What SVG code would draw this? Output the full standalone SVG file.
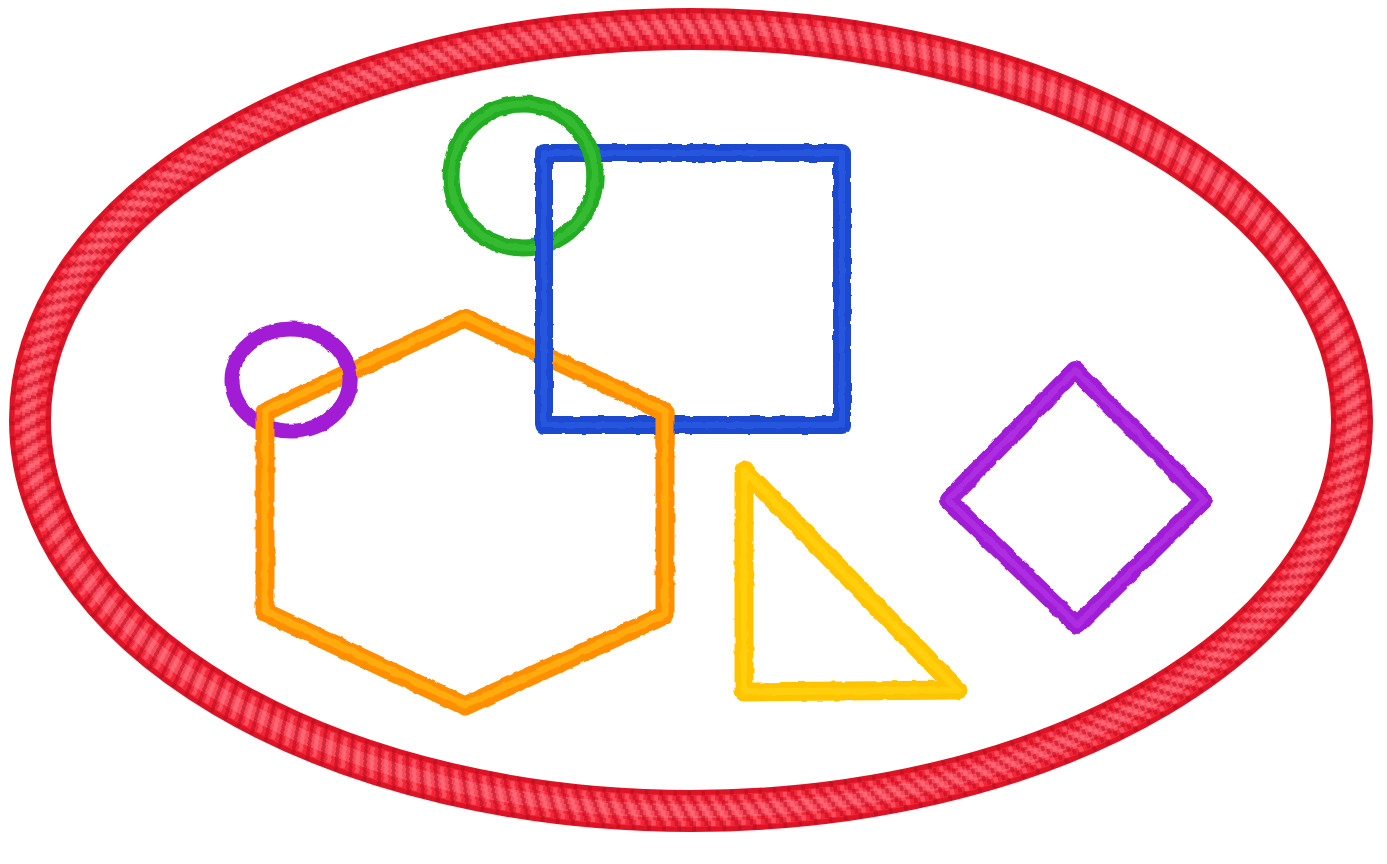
<svg xmlns="http://www.w3.org/2000/svg" width="1387" height="864" viewBox="0 0 1387 864">
<defs>
<style>
.rope{fill:none}
.str{fill:none;stroke-dasharray:2.4 7.6;stroke-width:5.4;stroke:#b00a1e;stroke-opacity:.5}
.lst{fill:none;stroke-dasharray:3 7;stroke-width:5.4;stroke:#ff9aa4;stroke-opacity:.35}
.sh{fill:none;stroke-linejoin:round;stroke-linecap:round}
.hi{fill:none;stroke-linejoin:round;stroke-linecap:round;stroke-opacity:.4}
</style>
<filter id="rough" x="-10%" y="-10%" width="120%" height="120%">
<feTurbulence type="fractalNoise" baseFrequency="0.09" numOctaves="2" seed="3" result="n"/>
<feDisplacementMap in="SourceGraphic" in2="n" scale="3.5" xChannelSelector="R" yChannelSelector="G"/>
</filter>
<clipPath id="cPurple"><rect x="325" y="335" width="50" height="70"/></clipPath>
<clipPath id="cGreen"><rect x="565" y="120" width="60" height="80"/></clipPath>
<clipPath id="cOrange"><rect x="642" y="395" width="48" height="50"/></clipPath>
<g id="hexShape">
<polygon class="sh" points="465,318 665,412 665,615 465,706 265,612 265,412" stroke="#ff8f00" stroke-width="19"/>
<polygon class="hi" points="465,317 665,411 665,614 465,705 265,611 265,411" stroke="#ffd21c" stroke-width="7"/>
</g>
<g id="purpleShape">
<ellipse class="sh" cx="291" cy="380" rx="59" ry="51" stroke="#a11dd4" stroke-width="15"/>
</g>
<g id="greenShape">
<circle class="sh" cx="523" cy="176" r="72" stroke="#24ad24" stroke-width="17"/>
<circle class="hi" cx="523" cy="176" r="72" stroke="#4fd04a" stroke-width="7"/>
</g>
</defs>
<rect width="1387" height="864" fill="#ffffff"/>

<g id="outer-rope">
<ellipse class="rope" cx="691" cy="420" rx="661" ry="391" stroke="#dc1426" stroke-width="42"/>
<ellipse class="rope" cx="691" cy="420" rx="661" ry="391" stroke="#f42638" stroke-width="32"/>
<ellipse class="rope" cx="691" cy="419" rx="662" ry="392" stroke="#ff6e7c" stroke-width="14" stroke-opacity=".5"/>
<g>
<ellipse class="str" cx="691" cy="420" rx="643.5" ry="373.5" pathLength="2280" stroke-dashoffset="0"/>
<ellipse class="str" cx="691" cy="420" rx="648.5" ry="378.5" pathLength="2280" stroke-dashoffset="1.9"/>
<ellipse class="str" cx="691" cy="420" rx="653.5" ry="383.5" pathLength="2280" stroke-dashoffset="3.8"/>
<ellipse class="str" cx="691" cy="420" rx="658.5" ry="388.5" pathLength="2280" stroke-dashoffset="5.7"/>
<ellipse class="str" cx="691" cy="420" rx="663.5" ry="393.5" pathLength="2280" stroke-dashoffset="7.6"/>
<ellipse class="str" cx="691" cy="420" rx="668.5" ry="398.5" pathLength="2280" stroke-dashoffset="9.5"/>
<ellipse class="str" cx="691" cy="420" rx="673.5" ry="403.5" pathLength="2280" stroke-dashoffset="11.4"/>
<ellipse class="str" cx="691" cy="420" rx="678.5" ry="408.5" pathLength="2280" stroke-dashoffset="13.3"/>
</g>
<g>
<ellipse class="lst" cx="691" cy="420" rx="648.5" ry="378.5" pathLength="2280" stroke-dashoffset="6.9"/>
<ellipse class="lst" cx="691" cy="420" rx="653.5" ry="383.5" pathLength="2280" stroke-dashoffset="8.8"/>
<ellipse class="lst" cx="691" cy="420" rx="658.5" ry="388.5" pathLength="2280" stroke-dashoffset="10.7"/>
<ellipse class="lst" cx="691" cy="420" rx="663.5" ry="393.5" pathLength="2280" stroke-dashoffset="12.6"/>
<ellipse class="lst" cx="691" cy="420" rx="668.5" ry="398.5" pathLength="2280" stroke-dashoffset="14.5"/>
<ellipse class="lst" cx="691" cy="420" rx="673.5" ry="403.5" pathLength="2280" stroke-dashoffset="16.4"/>
</g>
</g>

<g id="purple-circle" filter="url(#rough)"><use href="#purpleShape"/></g>
<g id="hexagon" filter="url(#rough)"><use href="#hexShape"/></g>
<g id="purple-circle-over" clip-path="url(#cPurple)"><g filter="url(#rough)"><use href="#purpleShape"/></g></g>

<g id="green-circle" filter="url(#rough)"><use href="#greenShape"/></g>
<g id="blue-square" filter="url(#rough)">
<rect class="sh" x="544" y="153" width="298" height="272" stroke="#1a4ad0" stroke-width="18"/>
<rect class="hi" x="544" y="153" width="298" height="272" stroke="#3a6cf0" stroke-width="6"/>
</g>
<g id="green-circle-over" clip-path="url(#cGreen)"><g filter="url(#rough)"><use href="#greenShape"/></g></g>
<g id="hexagon-over" clip-path="url(#cOrange)"><g filter="url(#rough)"><use href="#hexShape"/></g></g>

<g id="triangle" filter="url(#rough)">
<polygon class="sh" points="744,470 744,692 958,690" stroke="#ffc400" stroke-width="19"/>
<polygon class="hi" points="744,470 744,692 958,690" stroke="#ffe01a" stroke-width="7"/>
</g>
<g id="diamond" filter="url(#rough)">
<polygon class="sh" points="1075,370 1204,500 1077,625 948,500" stroke="#a11dd6" stroke-width="18"/>
<polygon class="hi" points="1075,370 1204,500 1077,625 948,500" stroke="#c04af0" stroke-width="6"/>
</g>
</svg>
